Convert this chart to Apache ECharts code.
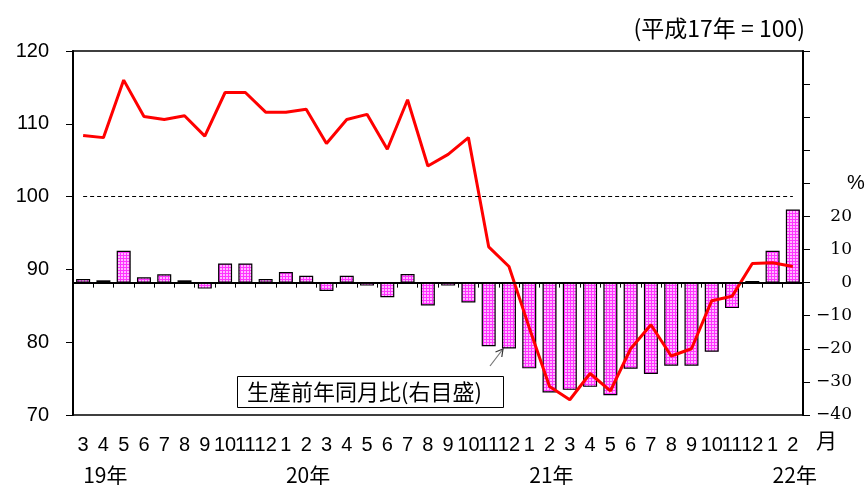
<!DOCTYPE html>
<html>
<head>
<meta charset="utf-8">
<script src="https://cdn.jsdelivr.net/npm/echarts@6/dist/echarts.min.js"></script>
<style>
    html, body { margin: 0; padding: 0; background: #fff; }
    #chart { width: 865px; height: 485px; }
</style>
</head>
<body>
<div id="chart"></div>
<script>
// months from 19年3月 to 22年2月
var months = ['3', '4', '5', '6', '7', '8', '9', '10', '11', '12',
    '1', '2', '3', '4', '5', '6', '7', '8', '9', '10', '11', '12',
    '1', '2', '3', '4', '5', '6', '7', '8', '9', '10', '11', '12',
    '1', '2'];
var yearStart = [0, 10, 22, 34];
var yearNames = ['19年', '20年', '21年', '22年'];

// 生産指数 (left axis, 平成17年 = 100)
var indexValues = [108.4, 108.1, 116.0, 111.0, 110.6, 111.1, 108.3, 114.3, 114.3, 111.6,
    111.6, 112.0, 107.3, 110.6, 111.3, 106.5, 113.3, 104.2, 105.8, 108.1, 93.1, 90.4,
    82.0, 73.9, 72.1, 75.7, 73.3, 79.1, 82.4, 78.1, 79.1, 85.7, 86.3, 90.8,
    90.9, 90.4];

// 生産前年同月比 % (right axis)
var yoyValues = [1.1, 0.7, 9.6, 1.6, 2.5, 0.7, -1.8, 5.8, 5.8, 1.1,
    3.2, 2.1, -2.5, 2.1, -0.9, -4.4, 2.6, -6.9, -0.9, -6.0, -19.2, -19.9,
    -25.9, -33.2, -32.4, -31.5, -34.0, -26.0, -27.6, -25.1, -25.1, -20.9, -7.7, 0.5,
    9.6, 22.1];

var chart = echarts.init(document.getElementById('chart'));

// pink checked fill for the bars
var pat = document.createElement('canvas');
pat.width = 3;
pat.height = 3;
var ctx = pat.getContext('2d');
ctx.fillStyle = '#ffb8ff';
ctx.fillRect(0, 0, 3, 3);
ctx.fillStyle = '#ff33ff';
ctx.fillRect(0, 0, 3, 1);
ctx.fillRect(0, 0, 1, 3);

var option = {
    animation: false,
    backgroundColor: '#fff',
    title: [{
        text: '(平成17年 = 100)',
        right: 55,
        top: 12,
        textStyle: { fontFamily: 'Noto Sans CJK JP', fontSize: 23, fontWeight: 'normal', color: '#000' }
    }, {
        text: '生産前年同月比(右目盛)',
        left: 237,
        top: 376,
        borderWidth: 1,
        borderColor: '#000',
        backgroundColor: '#fff',
        padding: [5, 22, 5, 10],
        textStyle: { fontFamily: 'Noto Sans CJK JP', fontSize: 22, fontWeight: 'normal', color: '#000' }
    }],
    grid: {
        left: 73,
        right: 62,
        top: 51,
        bottom: 70,
        outerBoundsMode: 'none',
        show: true,
        borderColor: '#000',
        borderWidth: 1.5
    },
    xAxis: [{
        type: 'category',
        data: months,
        position: 'bottom',
        axisLine: { lineStyle: { color: '#000', width: 2 } },
        axisTick: { show: true, interval: 0, length: 5, lineStyle: { color: '#000' } },
        axisLabel: {
            interval: 0,
            margin: 20,
            hideOverlap: false,
            fontFamily: 'Liberation Sans',
            fontSize: 20,
            color: '#000'
        }
    }, {
        type: 'category',
        data: months,
        position: 'bottom',
        offset: 42,
        axisLine: { show: false },
        axisTick: { show: false },
        axisLabel: {
            interval: 0,
            margin: 8,
            align: 'left',
            hideOverlap: false,
            fontFamily: 'Noto Sans CJK JP',
            fontSize: 21,
            color: '#000',
            formatter: function (v, i) {
                var k = yearStart.indexOf(i);
                return k >= 0 ? yearNames[k] : '';
            }
        }
    }],
    yAxis: [{
        type: 'value',
        position: 'left',
        min: 70,
        max: 120,
        interval: 10,
        splitLine: { show: false },
        axisLine: { show: true, lineStyle: { color: '#000', width: 2 } },
        axisTick: { show: true, length: 7, lineStyle: { color: '#000' } },
        axisLabel: { margin: 24, fontFamily: 'Liberation Sans', fontSize: 20, color: '#000' }
    }, {
        type: 'value',
        position: 'right',
        min: -40,
        max: 70,
        interval: 10,
        splitLine: { show: false },
        axisLine: { show: true, lineStyle: { color: '#000', width: 2 } },
        axisTick: { show: true, length: 7, lineStyle: { color: '#000' } },
        axisLabel: {
            align: 'right',
            margin: 49,
            fontFamily: 'DejaVu Serif',
            fontSize: 17,
            color: '#000',
            formatter: function (v) {
                if (v === 30) return '{p|%}';
                if (v > 20) return '';
                return v < 0 ? '\u2212' + Math.abs(v) : String(v);
            },
            rich: {
                p: { fontFamily: 'Liberation Sans', fontSize: 20, color: '#000', width: 5, align: 'left' }
            }
        }
    }],
    graphic: [{
        type: 'text',
        left: 816,
        top: 430,
        style: { text: '月', font: '21px "Noto Sans CJK JP"', fill: '#000' }
    }, {
        type: 'line',
        shape: { x1: 490, y1: 366, x2: 503, y2: 349 },
        style: { stroke: '#777', lineWidth: 1.2 }
    }, {
        type: 'polyline',
        shape: { points: [[495.5, 352], [503, 349], [501.8, 357]] },
        style: { stroke: '#333', lineWidth: 1.2, fill: null }
    }],
    series: [{
        name: '生産前年同月比',
        type: 'bar',
        xAxisIndex: 0,
        yAxisIndex: 1,
        barWidth: 14,
        data: yoyValues,
        itemStyle: {
            color: { image: pat, repeat: 'repeat' },
            borderColor: '#000',
            borderWidth: 1.2
        },
        markLine: {
            silent: true,
            symbol: ['none', 'none'],
            label: { show: false },
            lineStyle: { color: '#000', type: 'solid', width: 1.5 },
            data: [{ yAxis: 0 }]
        },
        z: 2
    }, {
        name: '生産指数',
        type: 'line',
        xAxisIndex: 0,
        yAxisIndex: 0,
        data: indexValues,
        symbol: 'none',
        lineStyle: { color: '#ff0000', width: 3 },
        itemStyle: { color: '#ff0000' },
        markLine: {
            silent: true,
            symbol: ['none', 'none'],
            label: { show: false },
            lineStyle: { color: '#000', type: [4, 3], width: 1 },
            data: [[{ coord: [0, 100] }, { coord: [35, 100] }]]
        },
        z: 3
    }]
};

chart.setOption(option);

window.addEventListener('resize', function () {
    chart.resize();
});
</script>
</body>
</html>
